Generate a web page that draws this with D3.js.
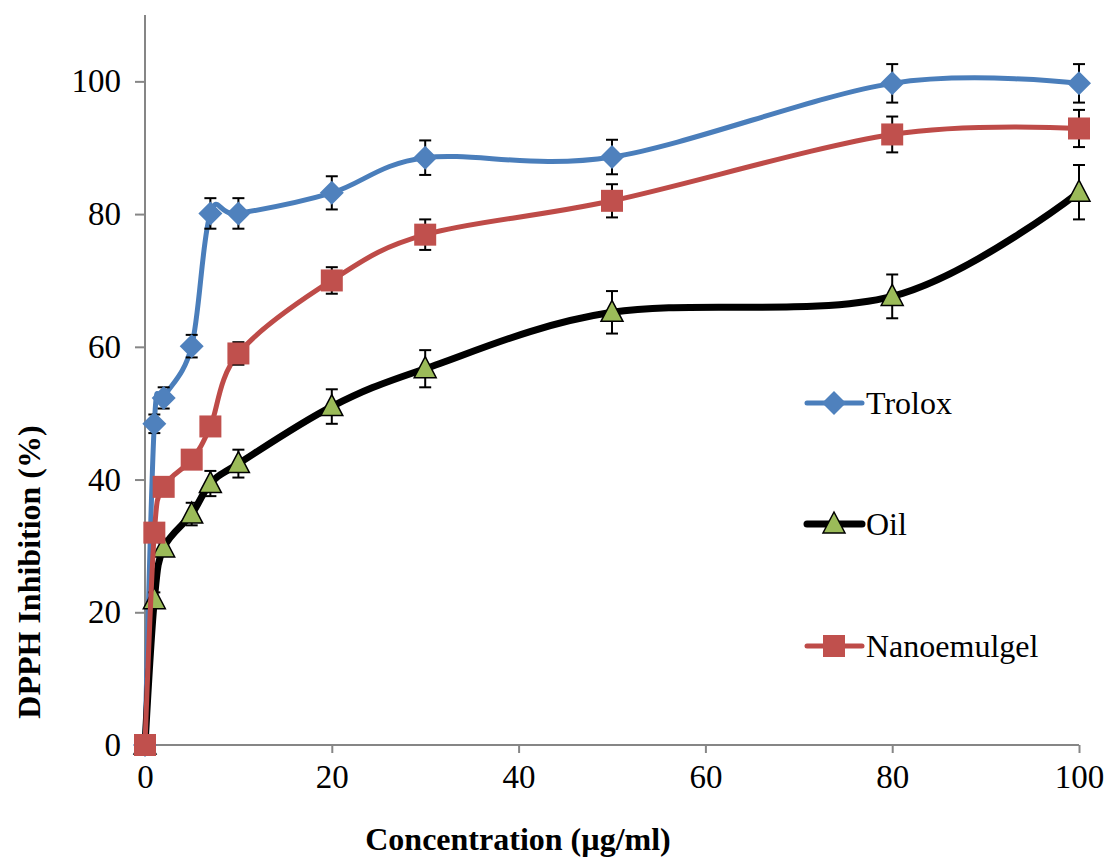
<!DOCTYPE html>
<html>
<head>
<meta charset="utf-8">
<script src="https://cdnjs.cloudflare.com/ajax/libs/d3/7.8.5/d3.min.js"></script>
<style>
  body { margin: 0; background: #fff; }
  svg { display: block; }
  svg text { font-family: 'Liberation Serif', 'Times New Roman', Times, 'DejaVu Serif', serif !important; fill: #000; }
</style>
</head>
<body>
<svg id="chart" width="1107" height="857"></svg>
<script>
const concentrations = [0, 1, 2, 5, 7, 10, 20, 30, 50, 80, 100];
const troloxValues = [0, 48.4, 52.3, 60.1, 80.1, 80.1, 83.2, 88.5, 88.6, 99.7, 99.7];
const troloxErrors = [0, 1.4, 1.6, 1.7, 2.3, 2.3, 2.5, 2.6, 2.6, 2.9, 2.9];
const oilValues = [0, 21.9, 29.7, 34.8, 39.4, 42.4, 51.0, 56.7, 65.2, 67.6, 83.3];
const oilErrors = [0, 1.1, 0.8, 1.7, 1.9, 2.1, 2.6, 2.8, 3.2, 3.3, 4.1];
const nanoValues = [0, 32.0, 38.9, 43.0, 48.0, 59.0, 70.0, 76.9, 82.0, 92.0, 92.9];
const nanoErrors = [0, 0.6, 0.6, 0.6, 0.6, 1.7, 2.0, 2.3, 2.5, 2.7, 2.8];
const xTicks = [0, 20, 40, 60, 80, 100];
const yTicks = [0, 20, 40, 60, 80, 100];
const seriesNames = ["Trolox", "Oil", "Nanoemulgel"];

const FONT = "'Liberation Serif', 'Times New Roman', Times, 'DejaVu Serif', serif";
const svg = d3.select("#chart");
const x = d3.scaleLinear().domain([0, 100]).range([145, 1079]);
const y = d3.scaleLinear().domain([0, 110]).range([745, 15]);
const axisColor = "#868686";

// Y axis
const yAxis = svg.append("g").attr("transform", "translate(145,0)")
  .call(d3.axisLeft(y).tickValues(yTicks).tickSize(10).tickPadding(14).tickFormat(d3.format("d")));
yAxis.attr("font-family", FONT);
yAxis.select(".domain").attr("stroke", axisColor).attr("stroke-width", 2).attr("d", `M0,${y(0)}V${y(110)}`);
yAxis.selectAll(".tick line").attr("stroke", axisColor).attr("stroke-width", 2);
yAxis.selectAll(".tick text").attr("font-family", FONT).attr("font-size", 33).attr("fill", "#000");

// X axis
const xAxis = svg.append("g").attr("transform", `translate(0,${y(0)})`)
  .call(d3.axisBottom(x).tickValues(xTicks).tickSize(8).tickPadding(12).tickFormat(d3.format("d")));
xAxis.attr("font-family", FONT);
xAxis.select(".domain").attr("stroke", axisColor).attr("stroke-width", 2).attr("d", `M${x(0)},0H${x(100)}`);
xAxis.selectAll(".tick line").attr("stroke", axisColor).attr("stroke-width", 2);
xAxis.selectAll(".tick text").attr("font-family", FONT).attr("font-size", 33).attr("fill", "#000");

// Axis titles
svg.append("text").attr("x", 518).attr("y", 850).attr("text-anchor", "middle")
  .attr("font-family", FONT).attr("font-size", 32).attr("font-weight", "bold").text("Concentration (µg/ml)");
svg.append("text").attr("transform", "translate(40,572) rotate(-90)").attr("text-anchor", "middle")
  .attr("font-family", FONT).attr("font-size", 32).attr("font-weight", "bold").text("DPPH Inhibition (%)");

const series = [
  { name: seriesNames[0], values: troloxValues, errors: troloxErrors, line: "#4a7ebb", width: 5, marker: "diamond", fill: "#4f81bd", stroke: "none" },
  { name: seriesNames[1], values: oilValues, errors: oilErrors, line: "#000000", width: 7, marker: "triangle", fill: "#9bbb59", stroke: "#000" },
  { name: seriesNames[2], values: nanoValues, errors: nanoErrors, line: "#be4b48", width: 5, marker: "square", fill: "#c0504d", stroke: "none" }
];

const line = d3.line().x(d => x(d[0])).y(d => y(d[1])).curve(d3.curveCardinal.tension(0));

function markerPath(type) {
  if (type === "diamond") return "M0,-12L12,0L0,12L-12,0Z";
  if (type === "square") return "M-11,-11H11V11H-11Z";
  return "M0,-12L11,9H-11Z";
}

series.forEach(s => {
  const pts = concentrations.map((c, i) => [c, s.values[i], s.errors[i]]);
  const g = svg.append("g");
  g.append("path").datum(pts).attr("d", line).attr("fill", "none")
    .attr("stroke", s.line).attr("stroke-width", s.width).attr("stroke-linejoin", "round");
  const eb = g.selectAll(".eb").data(pts.filter(p => p[2] > 0)).enter().append("g");
  eb.append("line").attr("x1", d => x(d[0])).attr("x2", d => x(d[0]))
    .attr("y1", d => y(d[1] + d[2])).attr("y2", d => y(d[1] - d[2])).attr("stroke", "#000").attr("stroke-width", 2);
  eb.append("line").attr("x1", d => x(d[0]) - 6).attr("x2", d => x(d[0]) + 6)
    .attr("y1", d => y(d[1] + d[2])).attr("y2", d => y(d[1] + d[2])).attr("stroke", "#000").attr("stroke-width", 2);
  eb.append("line").attr("x1", d => x(d[0]) - 6).attr("x2", d => x(d[0]) + 6)
    .attr("y1", d => y(d[1] - d[2])).attr("y2", d => y(d[1] - d[2])).attr("stroke", "#000").attr("stroke-width", 2);
  g.selectAll(".mk").data(pts).enter().append("path")
    .attr("transform", d => `translate(${x(d[0])},${y(d[1])})`)
    .attr("d", markerPath(s.marker)).attr("fill", s.fill)
    .attr("stroke", s.stroke).attr("stroke-width", s.stroke === "none" ? 0 : 1.5);
});

// Legend
const legendY = [403, 524, 646];
series.forEach((s, i) => {
  const g = svg.append("g").attr("transform", `translate(0,${legendY[i]})`);
  g.append("line").attr("x1", 807).attr("x2", 862).attr("y1", 0).attr("y2", 0)
    .attr("stroke", s.line).attr("stroke-width", s.width).attr("stroke-linecap", "round");
  g.append("path").attr("transform", "translate(834,0)").attr("d", markerPath(s.marker))
    .attr("fill", s.fill).attr("stroke", s.stroke).attr("stroke-width", s.stroke === "none" ? 0 : 1.5);
  g.append("text").attr("x", 866).attr("y", 11).attr("font-family", FONT).attr("font-size", 32).text(s.name);
});
</script>
</body>
</html>
